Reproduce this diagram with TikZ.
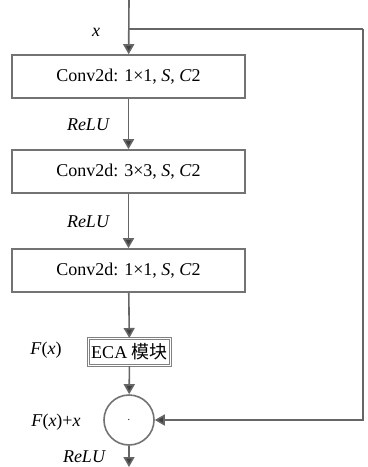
\documentclass[tikz,border=0pt]{standalone}
\usepackage{fontspec}
\setmainfont{Liberation Serif}
\newfontfamily\cjk{Noto Sans CJK SC}
\usetikzlibrary{arrows.meta}

\begin{document}
\begin{tikzpicture}[x=0.5pt,y=-0.5pt,font=\fontsize{9}{11}\selectfont,
  convbox/.style={draw=black!55,line width=0.8pt,minimum width=116.5pt,minimum height=21.5pt,inner sep=0pt},
  flow/.style={black!60,line width=0.8pt,-{Triangle[width=5.5pt,length=5pt,fill=black!75]}},
  lbl/.style={font=\fontsize{9}{11}\selectfont\itshape}]
  \useasboundingbox (0,0) rectangle (368,467);
  % input and shortcut
  \coordinate (in) at (129,0);
  \coordinate (split) at (129,29);
  \coordinate (turn) at (363,29);
  \coordinate (out) at (129,467);
  % main branch
  \node[convbox] (c1) at (128.5,76.5) {Conv2d: 1×1, \textit{S}, \textit{C}2};
  \node[convbox] (c2) at (128.5,171.5) {Conv2d: 3×3, \textit{S}, \textit{C}2};
  \node[convbox] (c3) at (128.5,270.5) {Conv2d: 1×1, \textit{S}, \textit{C}2};
  \node[draw=black!50,double=white,double distance=0.8pt,line width=0.5pt,
    minimum width=41pt,minimum height=13.5pt,inner sep=0pt] (eca) at (129.5,352) {ECA {\cjk 模块}};
  \node[circle,draw=black!55,line width=0.8pt,minimum size=25pt,inner sep=0pt] (add) at (129,420) {\tiny$\cdot$};
  % labels
  \node[lbl] (lx) at (96,32) {x};
  \node[lbl] (lr1) at (88,125) {ReLU};
  \node[lbl] (lr2) at (88,222) {ReLU};
  \node (lf) at (46,350) {\textit{F}(\textit{x})};
  \node (lfx) at (56,422) {\textit{F}(\textit{x})+\textit{x}};
  \node[lbl] (lr3) at (84,457) {ReLU};
  % connectors
  \draw[flow] (in) -- (c1);
  \draw[black!60,line width=0.8pt] (split) -- (turn);
  \draw[flow] (turn) |- (add);
  \draw[flow] (c1) -- (c2);
  \draw[flow] (c2) -- (c3);
  \draw[flow] (c3) -- (eca);
  \draw[flow] (eca) -- (add);
  \draw[flow] (add) -- (out);
\end{tikzpicture}
\end{document}
